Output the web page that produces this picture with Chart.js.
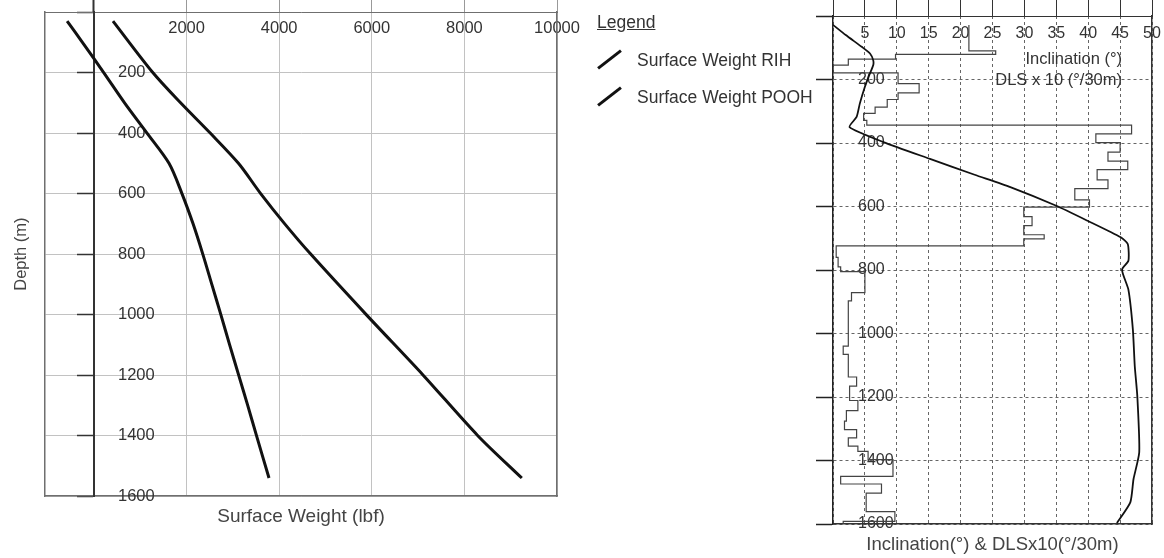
<!DOCTYPE html>
<html>
<head>
<meta charset="utf-8">
<script src="https://cdn.jsdelivr.net/npm/chart.js@4.4.1/dist/chart.umd.min.js"></script>
<style>
  body { margin: 0; background: #fff; font-family: "Liberation Sans", Arial, sans-serif; color: #333; }
  #wrap { position: relative; width: 1164px; height: 558px; overflow: hidden; }
  #weightChart { position: absolute; left: 0; top: 0; }
  #incChart { position: absolute; left: 790px; top: 0; }
  #legend { position: absolute; left: 597px; top: 11px; font-size: 17.5px; }
  #legend .title { text-decoration: underline; line-height: 22px; margin-bottom: 16px; }
  #legend .item { position: relative; height: 37px; line-height: 22px; padding-left: 40px; }
  #legend .item i { position: absolute; left: -2px; top: 9px; width: 29px; height: 3px; background: #111; transform: rotate(-38deg); }
  #incLabels { position: absolute; right: 42px; top: 48px; font-size: 16.5px; line-height: 21px; text-align: right; }
</style>
</head>
<body>
<div id="wrap">
  <canvas id="weightChart" width="590" height="558"></canvas>
  <canvas id="incChart" width="374" height="558"></canvas>
  <div id="legend"><div class="title">Legend</div><div id="legItems"></div></div>
  <div id="incLabels"></div>
</div>
<script>
// Left plot: surface weight vs depth
const weightLabels = ['Surface Weight RIH', 'Surface Weight POOH'];
const rihDepth = [30, 100, 200, 300, 400, 500, 600, 700, 800, 900, 1000, 1100, 1200, 1300, 1400, 1540];
const rihWeight = [-580, -250, 210, 660, 1145, 1620, 1900, 2140, 2350, 2545, 2740, 2930, 3125, 3320, 3510, 3780];
const poohDepth = [30, 200, 300, 400, 500, 600, 700, 800, 1000, 1200, 1400, 1540];
const poohWeight = [410, 1270, 1870, 2510, 3120, 3600, 4120, 4680, 5880, 7110, 8290, 9240];

// Right plot: inclination and DLS x10 vs depth
const incLabels = ['Inclination (°)', 'DLS x 10 (°/30m)'];
const incDepth = [28, 60, 97, 118, 139, 155, 190, 223, 276, 318, 350, 397, 450, 500, 539, 597, 645, 697, 718, 771, 799, 862, 987, 1103, 1198, 1374, 1459, 1532, 1597];
const incValue = [0, 2.0, 4.5, 5.8, 6.3, 6.3, 5.6, 5.0, 4.2, 3.7, 2.6, 7.9, 15.2, 22.2, 27.8, 34.9, 39.9, 45.1, 46.2, 46.3, 45.3, 46.3, 47.0, 47.3, 47.7, 48.0, 47.1, 46.6, 44.5];
const dlsDepth = [28, 110, 121, 136, 155, 179, 213, 242, 263, 287, 307, 329, 344, 371, 399, 429, 457, 484, 516, 544, 579, 602, 632, 660, 689, 702, 724, 760, 790, 805, 871, 897, 1040, 1066, 1137, 1166, 1211, 1243, 1276, 1303, 1329, 1355, 1371, 1397, 1450, 1474, 1503, 1561, 1592, 1600];
const dlsValue = [21.3, 25.5, 9.8, 2.4, 0, 10.2, 13.5, 10.2, 8.5, 6.6, 4.8, 5.3, 46.8, 41.2, 45, 43.1, 46.2, 41.4, 43.1, 37.9, 40.2, 29.9, 31.2, 29.9, 33.1, 29.9, 0.5, 0.8, 1.2, 5.0, 2.9, 2.4, 1.6, 2.4, 3.7, 2.6, 3.9, 2.1, 1.8, 3.7, 2.4, 3.9, 5.5, 9.4, 1.2, 7.6, 5.2, 9.7, 1.6, 1.6];

// tick values
const depthTicks = [0, 200, 400, 600, 800, 1000, 1200, 1400, 1600];
const weightTicks = [0, 2000, 4000, 6000, 8000, 10000];
const incTicks = [0, 5, 10, 15, 20, 25, 30, 35, 40, 45, 50];

Chart.defaults.font.family = "'Liberation Sans', Arial, sans-serif";
Chart.defaults.font.size = 16;
Chart.defaults.color = '#333';

function toPoints(xs, ys) {
    return xs.map((v, i) => ({ x: v, y: ys[i] }));
}

// fixed tick list for an axis
function useTicks(values) {
    return axis => { axis.ticks = values.map(v => ({ value: v })); };
}

// labels sit inside the plot, so the scales must not push the plot area around
function noPad(width) {
    return scale => {
        scale.paddingLeft = scale.paddingRight = scale.paddingTop = scale.paddingBottom = 0;
        if (width !== undefined) scale.width = width;
    };
}

// hide the label at zero, print plain numbers without thousands separators
function plainTick(v) {
    return v === 0 ? '' : String(v);
}

// legend and series captions as html text
document.getElementById('legItems').innerHTML = weightLabels
    .map(l => `<div class="item"><i></i>${l}</div>`).join('');
document.getElementById('incLabels').innerHTML = incLabels.map(l => `<div>${l}</div>`).join('');

const weightMin = -1058;
const weightMax = 10000;

new Chart(document.getElementById('weightChart'), {
    type: 'scatter',
    data: {
        datasets: [
            { label: weightLabels[0], data: toPoints(rihWeight, rihDepth), showLine: true, borderColor: '#111', backgroundColor: '#111', borderWidth: 3, pointRadius: 0, tension: 0.3 },
            { label: weightLabels[1], data: toPoints(poohWeight, poohDepth), showLine: true, borderColor: '#111', backgroundColor: '#111', borderWidth: 3, pointRadius: 0, tension: 0.3 }
        ]
    },
    options: {
        responsive: false,
        animation: false,
        layout: { padding: { left: 0, top: 0, right: 33, bottom: 26 } },
        plugins: { legend: { display: false }, tooltip: { enabled: false } },
        scales: {
            x: {
                type: 'linear', axis: 'x', position: { y: 0 }, min: weightMin, max: weightMax,
                afterBuildTicks: useTicks(weightTicks), afterFit: noPad(),
                ticks: { maxRotation: 0, autoSkip: false, padding: 7, font: { size: 16.5 }, callback: plainTick },
                grid: { color: '#c2c2c2', drawTicks: false },
                border: { display: false }
            },
            xTop: {
                type: 'linear', axis: 'x', position: 'top', min: weightMin, max: weightMax,
                afterBuildTicks: useTicks(weightTicks), afterFit: noPad(),
                ticks: { display: false },
                grid: {
                    drawOnChartArea: false, tickLength: 12,
                    tickColor: c => c.tick && c.tick.value === 0 ? '#333' : '#999',
                    tickWidth: c => c.tick && c.tick.value === 0 ? 2 : 1
                },
                border: { color: '#6f6f6f' }
            },
            xBottom: {
                type: 'linear', axis: 'x', position: 'bottom', min: weightMin, max: weightMax,
                afterFit: noPad(),
                ticks: { display: false },
                grid: { display: false, drawTicks: false },
                border: { color: '#6f6f6f', width: 1.5 },
                title: { display: true, text: 'Surface Weight (lbf)', color: '#444', font: { size: 19 }, padding: { top: 9, bottom: 4 } }
            },
            y: {
                type: 'linear', axis: 'y', position: 'left', reverse: true, min: 0, max: 1600,
                afterBuildTicks: useTicks(depthTicks), afterFit: noPad(45),
                ticks: { mirror: true, autoSkip: false, padding: 73, font: { size: 16.5 }, callback: plainTick },
                grid: { color: '#c2c2c2', drawTicks: false },
                border: { color: '#6f6f6f', width: 1.5 },
                title: { display: true, text: 'Depth (m)', color: '#444', font: { size: 16.5 }, padding: { top: 12, bottom: 13 } }
            },
            yZero: {
                type: 'linear', axis: 'y', position: { x: 0 }, reverse: true, min: 0, max: 1600,
                afterBuildTicks: useTicks(depthTicks), afterFit: noPad(),
                ticks: { display: false },
                grid: { drawOnChartArea: false, tickLength: 16, tickColor: '#333', tickWidth: 1.5 },
                border: { color: '#333', width: 2 }
            },
            yRight: {
                type: 'linear', axis: 'y', position: 'right', min: 0, max: 1600,
                afterFit: noPad(0),
                ticks: { display: false },
                grid: { display: false, drawTicks: false },
                border: { color: '#6f6f6f', width: 1.5 }
            }
        }
    }
});

new Chart(document.getElementById('incChart'), {
    type: 'scatter',
    data: {
        datasets: [
            { label: incLabels[0], data: toPoints(incValue, incDepth), showLine: true, borderColor: '#111', backgroundColor: '#111', borderWidth: 1.8, pointRadius: 0, tension: 0.2 },
            { label: incLabels[1], data: toPoints(dlsValue, dlsDepth), showLine: true, borderColor: '#444', backgroundColor: '#444', borderWidth: 1.2, pointRadius: 0, stepped: 'after' }
        ]
    },
    options: {
        responsive: false,
        animation: false,
        layout: { padding: { left: 26, top: 0, right: 12, bottom: 1.8 } },
        plugins: { legend: { display: false }, tooltip: { enabled: false } },
        scales: {
            x: {
                type: 'linear', axis: 'x', position: { y: 0 }, min: 0, max: 50,
                afterBuildTicks: useTicks(incTicks), afterFit: noPad(),
                ticks: { maxRotation: 0, autoSkip: false, padding: 8, callback: plainTick },
                grid: { color: '#666', drawTicks: false },
                border: { display: false, dash: [3, 3] }
            },
            xTop: {
                type: 'linear', axis: 'x', position: 'top', min: 0, max: 50,
                afterBuildTicks: useTicks(incTicks), afterFit: noPad(),
                ticks: { display: false },
                grid: { drawOnChartArea: false, tickLength: 16, tickColor: '#333' },
                border: { color: '#333' }
            },
            xBottom: {
                type: 'linear', axis: 'x', position: 'bottom', min: 0, max: 50,
                afterFit: noPad(),
                ticks: { display: false },
                grid: { display: false, drawTicks: false },
                border: { color: '#333', width: 1.5 },
                title: { display: true, text: 'Inclination(°) & DLSx10(°/30m)', color: '#444', font: { size: 18.5 }, padding: { top: 10, bottom: 0 } }
            },
            y: {
                type: 'linear', axis: 'y', position: 'left', reverse: true, min: 0, max: 1600,
                afterBuildTicks: useTicks(depthTicks), afterFit: noPad(17),
                ticks: { mirror: true, autoSkip: false, padding: 25, callback: plainTick },
                grid: { color: '#666', tickLength: 17, tickColor: '#222', tickWidth: 1.5 },
                border: { color: '#222', width: 1.5, dash: [3, 3] }
            },
            yRight: {
                type: 'linear', axis: 'y', position: 'right', min: 0, max: 1600,
                afterFit: noPad(0),
                ticks: { display: false },
                grid: { display: false, drawTicks: false },
                border: { color: '#333', width: 1.5 }
            }
        }
    }
});
</script>
</body>
</html>
